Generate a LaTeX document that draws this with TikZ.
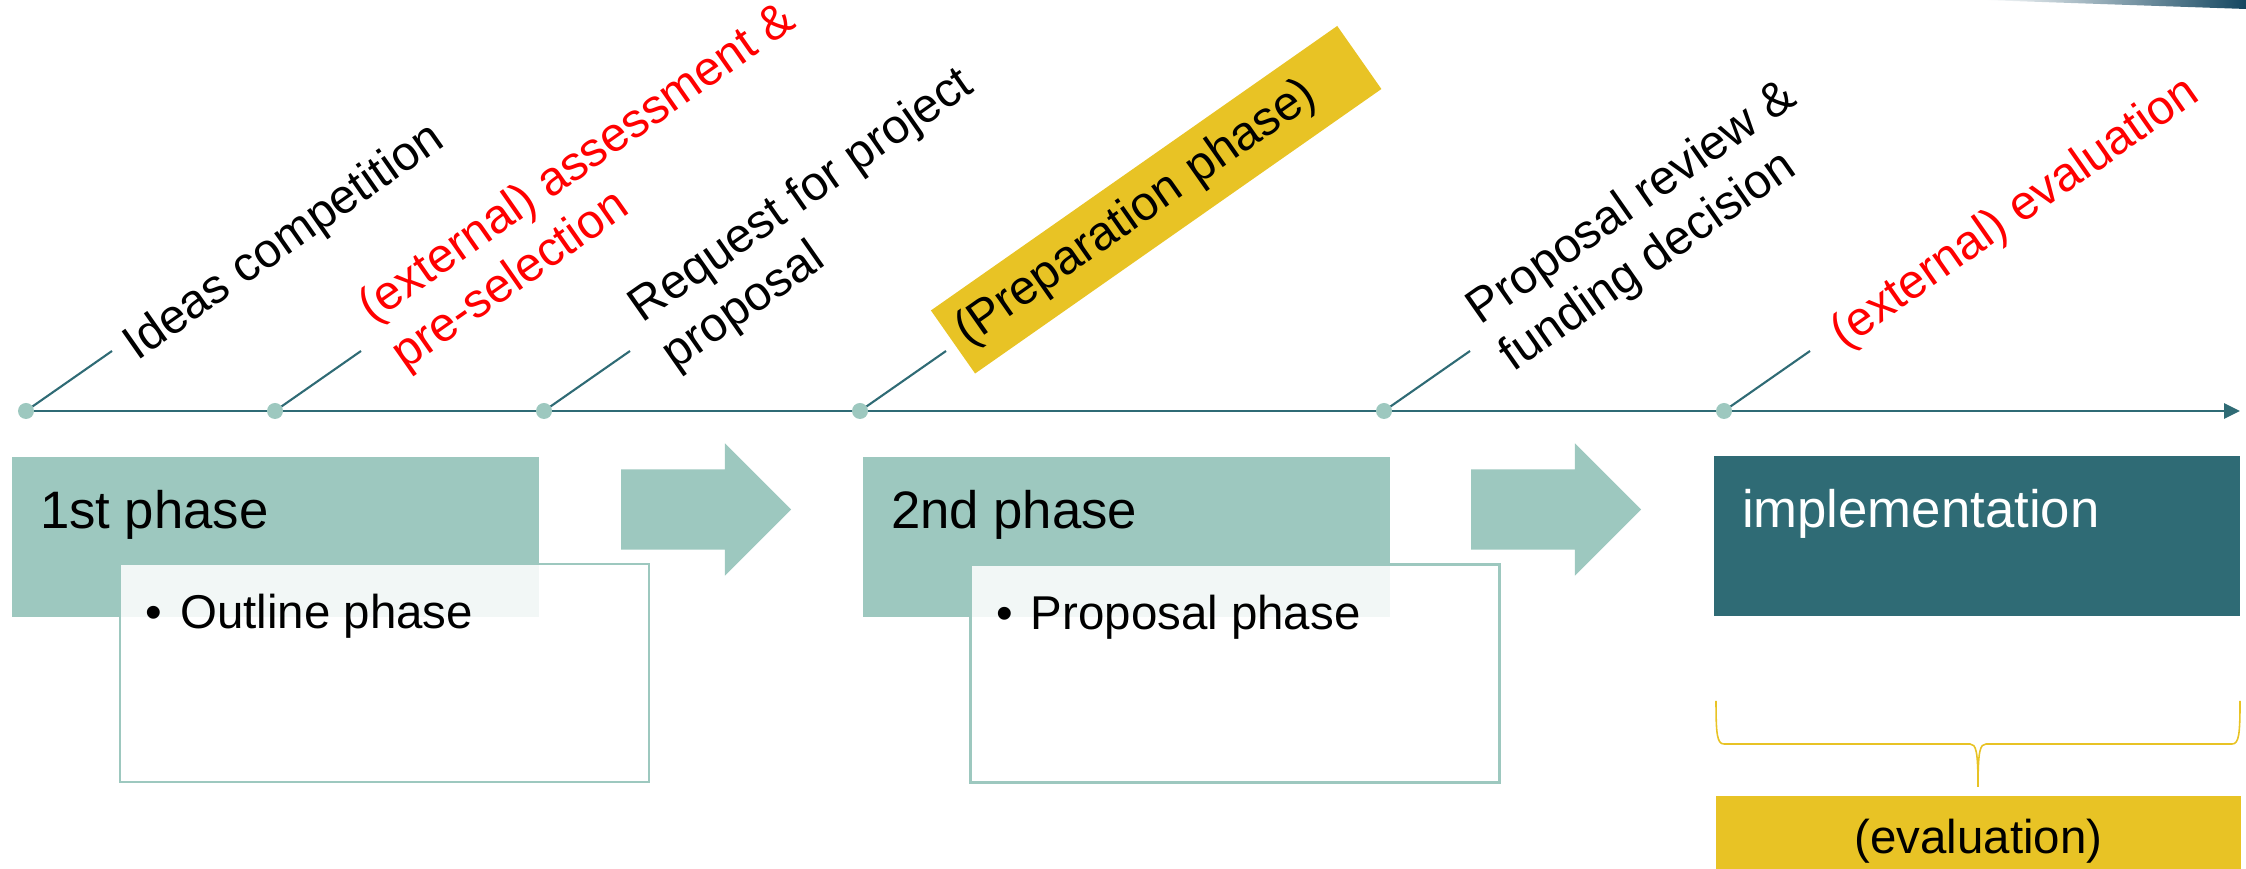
\documentclass[tikz,border=0pt]{standalone}
\usepackage{fontspec}
\setmainfont{Liberation Sans}
\usetikzlibrary{positioning}
\usetikzlibrary{calc}
\usetikzlibrary{arrows.meta, shapes.arrows}
\definecolor{lightteal}{HTML}{9DC8BF}
\definecolor{darkteal}{HTML}{2F6B75}
\definecolor{gold}{HTML}{E8C325}
\definecolor{navy}{HTML}{134660}
\definecolor{alert}{HTML}{FF0000}
\tikzset{
	every node/.style={align=left, outer sep=0pt},
	dot/.style={circle, fill=lightteal, minimum size=0.16cm, inner sep=0pt},
	leader/.style={darkteal, line width=0.6pt},
	timeline/.style={darkteal, line width=0.8pt},
	lbl/.style={rotate=35, anchor=west, inner sep=0pt, font=\fontsize{13.7}{16.3}\selectfont},
	prepbox/.style={rectangle, fill=gold, rotate=35, anchor=west, minimum height=0.77cm, text width=4.76cm, inner xsep=0.1cm, inner ysep=0pt, font=\fontsize{13.7}{16}\selectfont},
	phase/.style={rectangle, fill=lightteal, minimum width=5.27cm, minimum height=1.6cm, inner sep=0pt},
	sub/.style={rectangle, draw=lightteal, line width=0.7pt, fill=white, fill opacity=0.87, minimum width=5.29cm, minimum height=2.18cm, inner sep=0pt},
	phasehead/.style={anchor=base west, inner sep=0pt, font=\fontsize{15}{18}\selectfont},
	bullet/.style={anchor=base west, inner sep=0pt, font=\fontsize{13.5}{16}\selectfont},
	blockarrow/.style={single arrow, fill=lightteal, minimum height=1.7cm, single arrow head extend=0.26cm, inner xsep=0pt, inner ysep=0.395cm},
	evalbox/.style={rectangle, fill=gold, minimum width=5.25cm, minimum height=0.9cm, inner sep=0pt, font=\fontsize{13.5}{16}\selectfont},
	curly/.style={gold, line width=0.45pt}
}

\begin{document}
\begin{tikzpicture}
	\useasboundingbox (0,0) rectangle (22.46,8.69);
	% corner accent
	\shade[left color=white, right color=navy] (19.83,8.69) -- (22.46,8.69) -- (22.46,8.60) -- cycle;

	% time line
	\node[dot] (d1) at (0.26,4.58) {};
	\node[dot] (d2) at (2.75,4.58) {};
	\node[dot] (d3) at (5.44,4.58) {};
	\node[dot] (d4) at (8.60,4.58) {};
	\node[dot] (d5) at (13.84,4.58) {};
	\node[dot] (d6) at (17.24,4.58) {};
	\coordinate (tip) at (22.40,4.58);
	\draw[timeline, -{Triangle[length=0.16cm, width=0.15cm]}] (d1) -- (d2) -- (d3) -- (d4) -- (d5) -- (d6) -- (tip);
	\foreach \i in {1,...,6}
		\draw[leader] (d\i) -- ++(0.86,0.60) coordinate (l\i);

	% milestones
	\node[lbl] (t1) at ($(l1)+(0.18,0.00)$) {Ideas competition};
	\node[lbl, text=alert] (t2) at ($(l2)+(0.21,0.14)$) {(external) assessment \&\\pre-selection};
	\node[lbl] (t3) at ($(l3)+(0.22,0.14)$) {Request for project\\proposal};
	\node[prepbox] (prep) at ($(l4)+(0.07,0.09)$) {(Preparation phase)};
	\node[lbl] (t5) at ($(l5)+(0.20,0.12)$) {Proposal review \&\\funding decision};
	\node[lbl, text=alert] (t6) at ($(l6)+(0.27,0.12)$) {(external) evaluation};

	% phases
	\node[phase] (ph1) at (2.755,3.32) {};
	\node[phase] (ph2) at (11.265,3.32) {};
	\node[phase, fill=darkteal, minimum width=5.26cm] (impl) at (19.77,3.33) {};
	\node[blockarrow, anchor=tail] (ar1) at (6.21,3.595) {};
	\node[blockarrow, anchor=tail] (ar2) at (14.71,3.595) {};
	\node[sub] (sub1) at (3.845,1.96) {};
	\node[sub] (sub2) at (12.35,1.955) {};
	\node[phasehead] (h1) at ($(ph1.north west)+(0.28,-0.72)$) {1st phase};
	\node[phasehead] (h2) at ($(ph2.north west)+(0.28,-0.72)$) {2nd phase};
	\node[phasehead, text=white] (h3) at ($(impl.north west)+(0.28,-0.72)$) {implementation};
	\node[bullet] (b1) at ($(sub1.north west)+(0.257,-0.65)$) {\textbullet\hspace{0.18cm}Outline phase};
	\node[bullet] (b2) at ($(sub2.north west)+(0.257,-0.65)$) {\textbullet\hspace{0.18cm}Proposal phase};

	% evaluation
	\draw[curly] (17.16,1.68) .. controls (17.16,1.35) and (17.17,1.25) .. (17.24,1.25) -- (19.70,1.25) .. controls (19.76,1.25) and (19.78,1.18) .. (19.78,0.82);
	\draw[curly] (22.40,1.68) .. controls (22.40,1.35) and (22.39,1.25) .. (22.32,1.25) -- (19.86,1.25) .. controls (19.80,1.25) and (19.78,1.18) .. (19.78,0.82);
	\node[evalbox] (evl) at (19.785,0.28) {(evaluation)};
\end{tikzpicture}
\end{document}
